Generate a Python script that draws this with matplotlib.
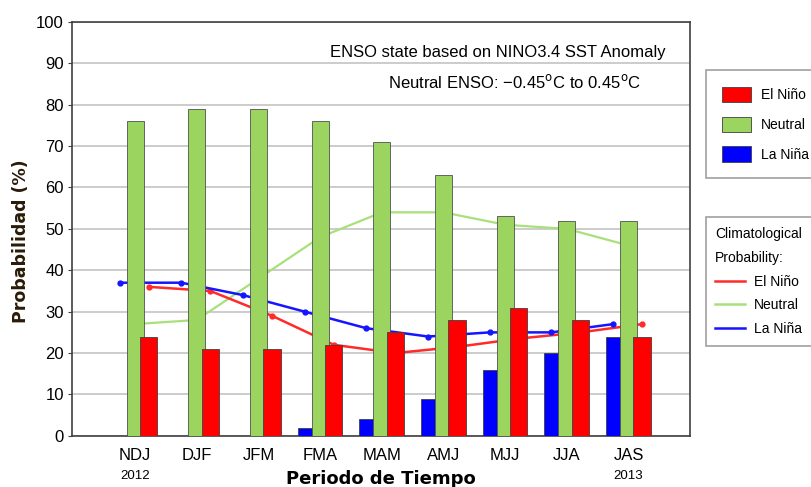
import numpy as np
import matplotlib.pyplot as plt
from matplotlib.patches import Patch
from matplotlib.lines import Line2D

plt.rcParams['font.family'] = ['Liberation Sans', 'DejaVu Sans']

periods = ['NDJ', 'DJF', 'JFM', 'FMA', 'MAM', 'AMJ', 'MJJ', 'JJA', 'JAS']
years = {0: '2012', 8: '2013'}

# pronostico (barras)
nino = [24, 21, 21, 22, 25, 28, 31, 28, 24]
neutral = [76, 79, 79, 76, 71, 63, 53, 52, 52]
nina = [0, 0, 0, 2, 4, 9, 16, 20, 24]

# climatologia (lineas)
clim_nino = [36, 35, 29, 22, 20, 21.5, 23.5, 25, 27]
clim_neutral = [27, 28, 38, 48, 54, 54, 51, 50, 46]
clim_nina = [37, 37, 34, 30, 26, 24, 25, 25, 27]

RED = '#ff0000'
GREEN = '#9bd45f'
BLUE = '#0000ff'

fig = plt.figure(figsize=(8.12, 4.87), dpi=100)
ax = fig.add_axes([0.089, 0.105, 0.761, 0.85])

x = np.arange(len(periods))
off_nina, off_nino = -0.25, 0.22

# lineas detras de las barras
ax.plot(x, clim_neutral, color='#a8e07c', lw=1.6, zorder=2)
ax.plot(x + off_nino, clim_nino, color='#ff2a2a', lw=1.8, marker='o', ms=3.5, zorder=2)
ax.plot(x + off_nina, clim_nina, color='#1515ff', lw=1.8, marker='o', ms=3.5, zorder=2)

ax.bar(x + off_nina, nina, width=0.23, color=BLUE, edgecolor='#404040', lw=0.6, zorder=3)
ax.bar(x, neutral, width=0.28, color=GREEN, edgecolor='#505050', lw=0.6, zorder=3)
ax.bar(x + off_nino, nino, width=0.28, color=RED, edgecolor='#404040', lw=0.6, zorder=4)

ax.set_xlim(-1.02, 9.0)
ax.set_ylim(0, 100)
ax.set_yticks(range(0, 101, 10))
ax.yaxis.grid(True, color='#cccccc', lw=1.4, zorder=0)
ax.set_axisbelow(True)
ax.tick_params(axis='y', length=3, color='#404040', labelsize=12, pad=3)
ax.tick_params(axis='x', length=0, labelsize=12, pad=9)
ax.set_xticks(x)
ax.set_xticklabels(periods)
for i, yr in years.items():
    ax.text(i, -0.083, yr, transform=ax.get_xaxis_transform(), ha='center', va='top', fontsize=9.5)
for s in ax.spines.values():
    s.set_color('#404040')
    s.set_linewidth(1.2)

ax.set_xlabel('Periodo de Tiempo', fontsize=13, fontweight='bold', family='DejaVu Sans', labelpad=5)
ax.set_ylabel('Probabilidad (%)', fontsize=12.5, fontweight='bold', family='DejaVu Sans',
              color='#2a1a08')
ax.yaxis.set_label_coords(-0.068, 0.47)

ax.text(0.961, 0.926, 'ENSO state based on NINO3.4 SST Anomaly', transform=ax.transAxes,
        ha='right', va='center', fontsize=12)
ax.text(0.92, 0.855, 'Neutral ENSO: \u22120.45$^\\mathrm{o}$C to 0.45$^\\mathrm{o}$C',
        transform=ax.transAxes, ha='right', va='center', fontsize=12)

bar_handles = [Patch(facecolor=RED, edgecolor='#404040', lw=0.6, label='El Niño'),
               Patch(facecolor=GREEN, edgecolor='#404040', lw=0.6, label='Neutral'),
               Patch(facecolor=BLUE, edgecolor='#404040', lw=0.6, label='La Niña')]
leg1 = fig.legend(handles=bar_handles, loc='upper left', bbox_to_anchor=(0.869, 0.856),
                  borderaxespad=0, fontsize=10, fancybox=False, edgecolor='#888888',
                  handlelength=2.1, handleheight=1.3, labelspacing=1.05, borderpad=1.2,
                  handletextpad=0.7)
leg1.get_frame().set_linewidth(1.2)

line_handles = [Line2D([], [], color='#ff2a2a', lw=1.8, label='El Niño'),
                Line2D([], [], color='#a8e07c', lw=1.8, label='Neutral'),
                Line2D([], [], color='#1515ff', lw=1.8, label='La Niña')]
leg2 = fig.legend(handles=line_handles, loc='upper left', bbox_to_anchor=(0.869, 0.554),
                  borderaxespad=0, title='Climatological\nProbability:', title_fontsize=10,
                  fontsize=10, fancybox=False, edgecolor='#888888', handlelength=2.1,
                  labelspacing=0.7, borderpad=0.7, handletextpad=0.7, alignment='left')
leg2.get_frame().set_linewidth(1.2)
leg2.get_title().set_linespacing(1.9)

fig.savefig('out.png', dpi=100)
